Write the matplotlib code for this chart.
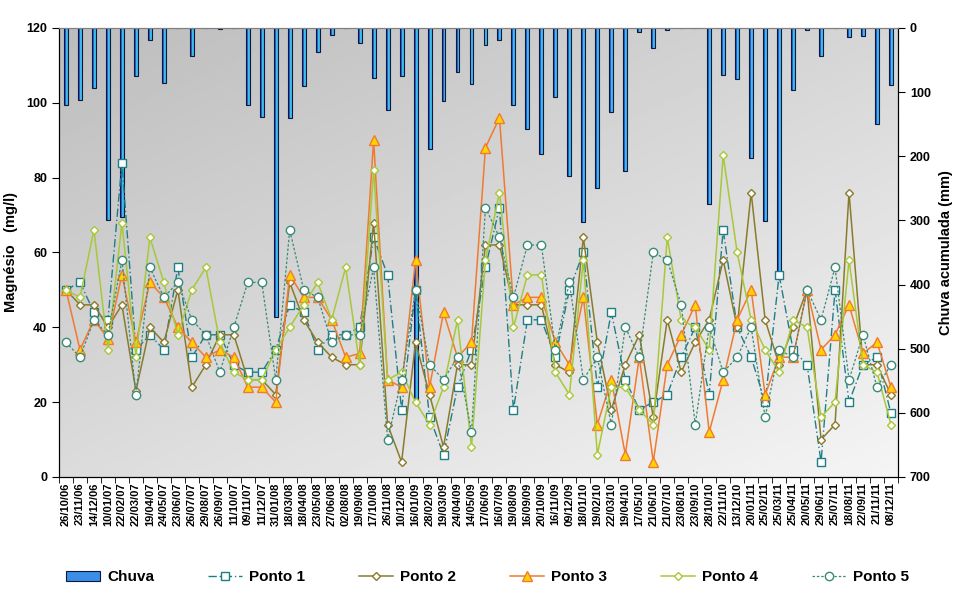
import matplotlib
matplotlib.use('Agg')
import matplotlib.pyplot as plt
import numpy as np
from matplotlib.patches import Patch

plt.rcParams['font.family'] = ['Liberation Sans', 'DejaVu Sans']
plt.rcParams['font.weight'] = 'bold'

# datas das coletas
datas = ["26/10/06", "23/11/06", "14/12/06", "10/01/07", "22/02/07", "22/03/07", "19/04/07",
         "24/05/07", "23/06/07", "26/07/07", "29/08/07", "26/09/07", "11/10/07", "09/11/07",
         "11/12/07", "31/01/08", "18/03/08", "18/04/08", "23/05/08", "27/06/08", "02/08/08",
         "19/09/08", "17/10/08", "26/11/08", "10/12/08", "16/01/09", "28/02/09", "19/03/09",
         "24/04/09", "14/05/09", "17/06/09", "16/07/09", "19/08/09", "16/09/09", "20/10/09",
         "16/11/09", "09/12/09", "18/01/10", "19/02/10", "22/03/10", "19/04/10", "17/05/10",
         "21/06/10", "21/07/10", "23/08/10", "23/09/10", "28/10/10", "22/11/10", "13/12/10",
         "20/01/11", "25/02/11", "25/03/11", "25/04/11", "20/05/11", "29/06/11", "25/07/11",
         "18/08/11", "22/09/11", "21/11/11", "08/12/11"]

# chuva acumulada (mm)
chuva = [120, 113, 94, 300, 295, 75, 19, 86, 0, 43, 0, 2, 0, 120, 139, 451, 141, 91, 38, 11,
         0, 24, 78, 128, 75, 579, 188, 114, 68, 88, 27, 19, 120, 158, 197, 108, 231, 303, 250, 131,
         223, 7, 32, 4, 0, 0, 275, 74, 80, 202, 301, 391, 96, 4, 43, 0, 14, 13, 149, 89]

# magnesio (mg/l)
ponto1 = [50, 52, 44, 42, 84, 34, 38, 34, 56, 32, 38, 38, 30, 28, 28, 34, 46, 44, 34, 38,
          38, 40, 64, 54, 18, 50, 16, 6, 24, 34, 56, 72, 18, 42, 42, 32, 50, 60, 24, 44,
          26, 18, 20, 22, 32, 40, 22, 66, 40, 32, 20, 54, 34, 30, 4, 50, 20, 30, 32, 17]
ponto2 = [50, 46, 46, 40, 46, 23, 40, 36, 50, 24, 30, 38, 38, 26, 26, 22, 52, 42, 36, 32,
          30, 30, 68, 14, 4, 36, 22, 8, 30, 30, 62, 62, 46, 46, 46, 30, 28, 64, 36, 18,
          30, 38, 16, 42, 28, 36, 42, 58, 40, 76, 42, 30, 40, 50, 10, 14, 76, 30, 30, 22]
ponto3 = [50, 34, 42, 37, 54, 36, 52, 48, 40, 36, 32, 34, 32, 24, 24, 20, 54, 48, 48, 42,
          32, 33, 90, 26, 24, 58, 24, 44, 32, 36, 88, 96, 46, 48, 48, 36, 30, 48, 14, 26,
          6, 32, 4, 30, 38, 46, 12, 26, 42, 50, 22, 32, 32, 50, 34, 38, 46, 33, 36, 24]
ponto4 = [50, 48, 66, 34, 68, 32, 64, 52, 38, 50, 56, 36, 28, 26, 26, 34, 40, 46, 52, 42,
          56, 30, 82, 26, 28, 20, 14, 24, 42, 8, 58, 76, 40, 54, 54, 28, 22, 58, 6, 24,
          24, 18, 14, 64, 42, 40, 34, 86, 60, 42, 34, 28, 42, 40, 16, 20, 58, 30, 28, 14]
ponto5 = [36, 32, 42, 38, 58, 22, 56, 48, 52, 42, 38, 28, 40, 52, 52, 26, 66, 50, 48, 36,
          38, 38, 56, 10, 26, 50, 30, 26, 32, 12, 72, 64, 48, 62, 62, 34, 52, 26, 32, 14,
          40, 32, 60, 58, 46, 14, 40, 28, 32, 40, 16, 34, 32, 50, 42, 56, 26, 38, 24, 30]

x = np.arange(len(datas))

fig = plt.figure(figsize=(9.61, 5.94), dpi=100)
ax = fig.add_axes([0.0614, 0.197, 0.873, 0.756])
ax2 = ax.twinx()

# chuva atras das linhas
ax2.set_zorder(1)
ax.set_zorder(2)
ax.patch.set_visible(False)

# fundo em degrade
gy, gx = np.mgrid[0:1:200j, 0:1:200j]
grad = 0.74 + 0.22 * (0.55 * gy + 0.45 * gx)
ax2.imshow(grad, extent=[0, 1, 0, 1], transform=ax2.transAxes, aspect='auto',
           cmap='gray', vmin=0, vmax=1, origin='upper', zorder=0)

w = 0.28
ax2.bar(x - w / 4, chuva, width=w / 2, color='#2d5ccc', linewidth=0, zorder=2)
ax2.bar(x + w / 4, chuva, width=w / 2, color='#3cbcec', linewidth=0, zorder=2)
ax2.bar(x, chuva, width=w, fill=False, edgecolor='#0d1740', linewidth=0.8, zorder=3)
ax2.set_ylim(700, 0)
ax2.set_yticks(range(0, 701, 100))

ax.plot(x, ponto1, color='#1e7e86', linestyle=(0, (6, 2, 1, 2)), linewidth=1.0,
        marker='s', markersize=5.5, markerfacecolor='white', markeredgecolor='#1e7e86', label='Ponto 1')
ax.plot(x, ponto2, color='#8a7b2c', linewidth=1.1,
        marker='D', markersize=4.2, markerfacecolor='white', markeredgecolor='#8a7b2c', label='Ponto 2')
ax.plot(x, ponto3, color='#f07a30', linewidth=1.1,
        marker='^', markersize=6.5, markerfacecolor='#ffd400', markeredgecolor='#f07a30', label='Ponto 3')
ax.plot(x, ponto4, color='#a8c83a', linewidth=1.1,
        marker='D', markersize=4.2, markerfacecolor='white', markeredgecolor='#a8c83a', label='Ponto 4')
ax.plot(x, ponto5, color='#3a8a78', linestyle=(0, (2, 1.5)), linewidth=0.9,
        marker='o', markersize=6, markerfacecolor='white', markeredgecolor='#3a8a78', label='Ponto 5')

ax.set_xlim(-0.5, len(datas) - 0.5)
ax.set_ylim(0, 120)
ax.set_yticks(range(0, 121, 20))
ax.set_xticks(x)
ax.set_xticklabels(datas, rotation=90, fontsize=8, fontweight='bold')
ax.set_xticks(np.arange(-0.5, len(datas), 1), minor=True)
ax.tick_params(axis='x', which='major', length=0, pad=4)
ax.tick_params(axis='x', which='minor', length=4, direction='out')
ax.tick_params(axis='y', labelsize=9, length=5, direction='out')
ax2.tick_params(axis='y', labelsize=9, length=5, direction='out')
for t in ax.get_yticklabels() + ax2.get_yticklabels():
    t.set_fontweight('bold')

for a in (ax, ax2):
    for s in ('left', 'right', 'bottom'):
        a.spines[s].set_color('black')
    a.spines['top'].set_color('#808080')

ax.set_ylabel('Magnésio   (mg/l)', fontsize=10.5, fontweight='bold', labelpad=6)
ax2.set_ylabel('Chuva acumulada (mm)', fontsize=10.5, fontweight='bold', labelpad=6)

handles = [Patch(facecolor='#3a8ee6', edgecolor='#0d1740', linewidth=0.8)]
handles += ax.get_lines()
labels = ['Chuva', 'Ponto 1', 'Ponto 2', 'Ponto 3', 'Ponto 4', 'Ponto 5']
fig.legend(handles, labels, loc='center', bbox_to_anchor=(0.0546, 0.003, 0.906, 0.05),
           mode='expand', ncol=6, frameon=False, handlelength=2.2, handletextpad=0.5,
           prop={'size': 11, 'weight': 'bold'})

fig.savefig('out.png', dpi=100, facecolor='white')
